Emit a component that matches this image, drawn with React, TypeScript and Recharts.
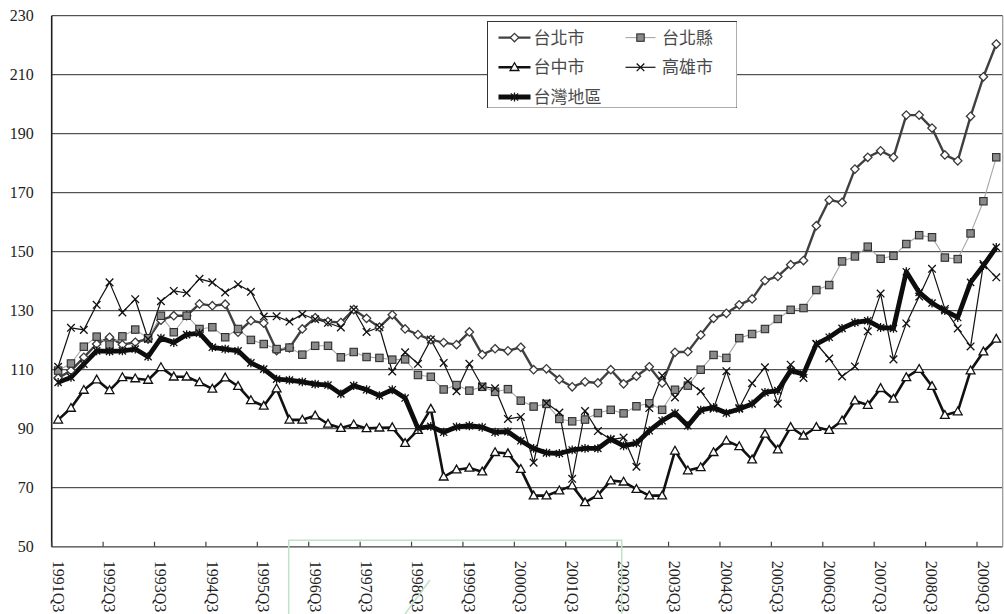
import React from 'react';
import { LineChart, Line, XAxis, YAxis, CartesianGrid, Legend } from 'recharts';

// Quarterly housing price index, 1991Q3 – 2009Q4
const quarters = [
  '1991Q3', '1991Q4',
  '1992Q1', '1992Q2', '1992Q3', '1992Q4',
  '1993Q1', '1993Q2', '1993Q3', '1993Q4',
  '1994Q1', '1994Q2', '1994Q3', '1994Q4',
  '1995Q1', '1995Q2', '1995Q3', '1995Q4',
  '1996Q1', '1996Q2', '1996Q3', '1996Q4',
  '1997Q1', '1997Q2', '1997Q3', '1997Q4',
  '1998Q1', '1998Q2', '1998Q3', '1998Q4',
  '1999Q1', '1999Q2', '1999Q3', '1999Q4',
  '2000Q1', '2000Q2', '2000Q3', '2000Q4',
  '2001Q1', '2001Q2', '2001Q3', '2001Q4',
  '2002Q1', '2002Q2', '2002Q3', '2002Q4',
  '2003Q1', '2003Q2', '2003Q3', '2003Q4',
  '2004Q1', '2004Q2', '2004Q3', '2004Q4',
  '2005Q1', '2005Q2', '2005Q3', '2005Q4',
  '2006Q1', '2006Q2', '2006Q3', '2006Q4',
  '2007Q1', '2007Q2', '2007Q3', '2007Q4',
  '2008Q1', '2008Q2', '2008Q3', '2008Q4',
  '2009Q1', '2009Q2', '2009Q3', '2009Q4',
];

const taipeiCity = [
  107.2, 109.7, 114.2, 118.7, 121.0, 118.5, 119.3, 120.4, 126.8, 128.3,
  128.3, 132.3, 131.7, 132.2, 122.7, 126.6, 125.8, 116.5, 117.4, 123.8,
  127.6, 126.3, 126.0, 130.4, 127.4, 124.4, 128.6, 123.8, 121.9, 120.2,
  119.2, 118.5, 122.8, 115.1, 117.1, 116.4, 117.6, 110.0, 110.3, 106.7,
  104.2, 105.9, 105.5, 110.0, 105.2, 107.8, 111.0, 105.5, 115.9, 116.1,
  121.8, 127.4, 129.1, 132.0, 134.0, 140.2, 141.6, 145.6, 147.0, 158.8,
  167.5, 166.7, 178.0, 182.0, 184.2, 182.0, 196.3, 196.3, 191.9, 182.8,
  180.8, 195.9, 209.3, 220.4,
];

const taipeiCounty = [
  109.7, 112.1, 117.8, 121.2, 118.5, 121.3, 123.6, 120.7, 128.3, 122.7,
  128.3, 123.8, 124.4, 121.0, 123.8, 120.1, 118.7, 117.0, 117.5, 115.1,
  118.1, 118.1, 114.2, 116.0, 114.3, 114.0, 113.4, 113.5, 108.2, 107.6,
  103.3, 104.8, 102.9, 104.2, 102.5, 103.4, 99.5, 97.5, 98.4, 93.3,
  92.5, 93.1, 95.3, 96.4, 95.2, 97.6, 98.6, 96.4, 103.2, 104.6,
  110.0, 115.0, 114.0, 120.7, 122.1, 123.8, 127.2, 130.3, 130.9, 137.0,
  138.7, 146.7, 148.4, 151.7, 147.6, 148.6, 152.6, 155.6, 154.9, 148.0,
  147.5, 156.2, 167.1, 182.0,
];

const taichung = [
  93.0, 97.0, 103.1, 106.6, 103.0, 107.4, 107.0, 106.5, 110.8, 107.6,
  107.6, 105.7, 103.5, 107.3, 104.4, 99.6, 97.7, 103.6, 93.0, 93.0,
  94.4, 91.6, 90.2, 91.4, 90.1, 90.3, 90.4, 85.1, 89.5, 96.7,
  73.7, 76.1, 76.7, 75.4, 82.0, 81.6, 76.3, 67.3, 67.3, 69.0,
  70.7, 65.0, 67.5, 72.4, 72.0, 69.5, 67.3, 67.3, 82.5, 75.8,
  76.9, 82.0, 85.9, 84.0, 79.5, 88.2, 82.9, 90.5, 87.6, 90.5,
  89.5, 92.7, 99.5, 98.0, 103.7, 100.1, 107.4, 110.2, 104.4, 94.6,
  95.8, 109.7, 116.1, 120.4,
];

const kaohsiung = [
  111.0, 124.2, 123.5, 132.0, 139.6, 129.4, 133.9, 120.4, 133.2, 136.7,
  136.0, 140.8, 139.6, 136.2, 138.9, 136.4, 128.0, 128.1, 126.3, 128.8,
  127.1, 125.9, 124.3, 130.4, 122.8, 124.4, 109.4, 115.9, 112.0, 120.2,
  112.3, 102.7, 112.0, 104.3, 103.7, 93.3, 94.0, 78.5, 98.7, 95.5,
  73.0, 96.0, 89.2, 86.3, 87.0, 77.1, 97.0, 108.0, 100.6, 106.1,
  102.7, 96.8, 109.5, 97.0, 105.4, 110.8, 98.5, 111.7, 107.2, 118.8,
  113.8, 107.7, 111.1, 123.0, 135.8, 113.5, 125.7, 134.8, 144.2, 130.6,
  124.0, 117.9, 145.8, 141.3,
];

const taiwan = [
  105.7, 107.4, 111.9, 116.4, 116.2, 116.4, 117.0, 114.4, 120.7, 119.2,
  121.9, 122.4, 117.6, 117.0, 116.4, 112.3, 110.2, 106.8, 106.5, 105.9,
  105.1, 104.8, 101.8, 104.6, 103.2, 101.2, 103.2, 100.4, 90.1, 90.8,
  88.8, 90.6, 91.0, 90.5, 88.8, 89.0, 85.9, 83.3, 81.8, 81.6,
  82.8, 83.3, 83.3, 86.5, 84.2, 85.1, 89.3, 92.7, 95.3, 91.0,
  96.3, 97.2, 95.3, 96.7, 98.4, 102.3, 102.9, 109.7, 108.5, 118.7,
  121.0, 124.0, 126.0, 126.6, 124.3, 124.0, 143.2, 136.2, 132.6, 130.0,
  127.7, 139.6, 145.3, 151.5,
];

const yTicks = [50, 70, 90, 110, 130, 150, 170, 190, 210, 230];

const seriesLabels = {
  taipeiCity: '台北市',
  taipeiCounty: '台北縣',
  taichung: '台中市',
  kaohsiung: '高雄市',
  taiwan: '台灣地區',
};

const data = quarters.map((q, i) => ({
  q,
  taipeiCity: taipeiCity[i],
  taipeiCounty: taipeiCounty[i],
  taichung: taichung[i],
  kaohsiung: kaohsiung[i],
  taiwan: taiwan[i],
}));

// ---- layout ----
const W = 1004;
const H = 614;
const MARGIN = { top: 15.7, right: 0, left: 0, bottom: 0 };
const Y_AXIS_W = 51.7;
const RIGHT_AXIS_W = 1.3;
const X_AXIS_H = 67.3;
const PLOT_W = W - Y_AXIS_W - RIGHT_AXIS_W;
const HALF_STEP = PLOT_W / quarters.length / 2;

const SERIF = '"Liberation Serif", "Times New Roman", serif';
const CJK = '"Noto Sans CJK TC", "Noto Sans CJK SC", sans-serif';

// ---- markers ----
type Shape = 'diamond' | 'square' | 'triangle' | 'cross' | 'star';

const marker = (shape: Shape, cx: number, cy: number, key?: string) => {
  switch (shape) {
    case 'diamond': {
      const r = 4.2;
      return (
        <path key={key} d={`M${cx},${cy - r}L${cx + r},${cy}L${cx},${cy + r}L${cx - r},${cy}Z`}
          fill="#ffffff" stroke="#3a3a3a" strokeWidth={1.3} />
      );
    }
    case 'square': {
      const r = 3.7;
      return (
        <rect key={key} x={cx - r} y={cy - r} width={2 * r} height={2 * r}
          fill="#8a8a8a" stroke="#2e2e2e" strokeWidth={1.1} />
      );
    }
    case 'triangle': {
      return (
        <path key={key} d={`M${cx},${cy - 4.6}L${cx + 4.4},${cy + 3.2}L${cx - 4.4},${cy + 3.2}Z`}
          fill="#ffffff" stroke="#111111" strokeWidth={1.3} />
      );
    }
    case 'cross': {
      const r = 3.8;
      return (
        <path key={key} d={`M${cx - r},${cy - r}L${cx + r},${cy + r}M${cx - r},${cy + r}L${cx + r},${cy - r}`}
          stroke="#111111" strokeWidth={1.3} fill="none" />
      );
    }
    default: {
      const r = 3.6;
      return (
        <path key={key}
          d={`M${cx - r},${cy - r}L${cx + r},${cy + r}M${cx - r},${cy + r}L${cx + r},${cy - r}M${cx},${cy - r - 0.8}L${cx},${cy + r + 0.8}`}
          stroke="#111111" strokeWidth={1.3} fill="none" />
      );
    }
  }
};

const dotFor = (shape: Shape) => (p: any) => {
  if (p == null || p.cx == null || p.cy == null) return <g key={`e-${p?.index}`} />;
  return marker(shape, p.cx, p.cy, `${shape}-${p.index}`);
};

const seriesStyle: Record<string, { stroke: string; width: number; shape: Shape }> = {
  taipeiCity: { stroke: '#404040', width: 2.4, shape: 'diamond' },
  taipeiCounty: { stroke: '#a6a6a6', width: 1.1, shape: 'square' },
  taichung: { stroke: '#111111', width: 2.6, shape: 'triangle' },
  kaohsiung: { stroke: '#111111', width: 1.2, shape: 'cross' },
  taiwan: { stroke: '#0d0d0d', width: 4.8, shape: 'star' },
};

// ---- axis ticks ----
const XTick = (props: any) => {
  const { x, y, payload } = props;
  const ty = y + 14;
  return (
    <g>
      <line x1={x - HALF_STEP} y1={y} x2={x - HALF_STEP} y2={y - 5} stroke="#444" strokeWidth={1.2} />
      <text x={x} y={ty} dy="0.35em" transform={`rotate(90 ${x} ${ty})`}
        fontSize={16} fontFamily={SERIF} fill="#222">
        {payload.value}
      </text>
    </g>
  );
};

// ---- legend ----
const legendSlots: Record<string, { col: number; row: number }> = {
  taipeiCity: { col: 0, row: 0 },
  taipeiCounty: { col: 1, row: 0 },
  taichung: { col: 0, row: 1 },
  kaohsiung: { col: 1, row: 1 },
  taiwan: { col: 0, row: 2 },
};
const LEGEND_BOX = { left: 486.7, top: 20.7, width: 250.6, height: 87.6 };

const LegendBox = (props: any) => {
  const items: any[] = (props.payload && props.payload.length)
    ? props.payload
    : Object.keys(seriesLabels).map((k) => ({ dataKey: k, value: (seriesLabels as any)[k] }));
  return (
    <svg width={LEGEND_BOX.width} height={LEGEND_BOX.height} style={{ display: 'block' }}>
      <rect x={0.5} y={0.5} width={LEGEND_BOX.width - 1} height={LEGEND_BOX.height - 1}
        fill="#ffffff" stroke="#333" strokeWidth={1} />
      {items.map((it) => {
        const key = String(it.dataKey);
        const slot = legendSlots[key];
        const st = seriesStyle[key];
        if (!slot || !st) return null;
        const x0 = slot.col === 0 ? 11.5 : 138.5;
        const x1 = slot.col === 0 ? 43.5 : 168.5;
        const tx = slot.col === 0 ? 46.5 : 175;
        const cy = 16.6 + slot.row * 29.7;
        return (
          <g key={key}>
            <line x1={x0} y1={cy} x2={x1} y2={cy} stroke={st.stroke} strokeWidth={st.width} />
            {marker(st.shape, (x0 + x1) / 2, cy)}
            <text x={tx} y={cy} dy="0.36em" fontSize={17} fontFamily={CJK} fill="#4a4a4a">
              {it.value}
            </text>
          </g>
        );
      })}
    </svg>
  );
};

const seriesOrder = ['taipeiCity', 'taipeiCounty', 'taichung', 'kaohsiung', 'taiwan'];

export default function App() {
  return (
    <div style={{ position: 'absolute', left: 0, top: 0, width: W, height: H, background: '#fff' }}>
      <LineChart width={W} height={H} data={data} margin={MARGIN}>
        <CartesianGrid vertical={false} stroke="#2b2b2b" strokeWidth={1} />
        <XAxis
          dataKey="q"
          interval={3}
          height={X_AXIS_H}
          padding={{ left: HALF_STEP, right: HALF_STEP }}
          tickLine={false}
          tickSize={0}
          tickMargin={0}
          axisLine={{ stroke: '#6e6e6e', strokeWidth: 1.5 }}
          tick={<XTick />}
        />
        <YAxis
          domain={[50, 230]}
          ticks={yTicks}
          width={Y_AXIS_W}
          tickLine={false}
          tickSize={0}
          tickMargin={18}
          axisLine={{ stroke: '#1f1f1f', strokeWidth: 1.6 }}
          tick={{ fontSize: 16, fontFamily: SERIF, fill: '#222' }}
          allowDataOverflow
        />
        <YAxis
          yAxisId="frame"
          orientation="right"
          domain={[50, 230]}
          width={RIGHT_AXIS_W}
          tick={false}
          tickLine={false}
          axisLine={{ stroke: '#9a9a9a', strokeWidth: 1.3 }}
        />
        <Legend
          layout="vertical"
          align="center"
          verticalAlign="middle"
          wrapperStyle={{ left: LEGEND_BOX.left, top: LEGEND_BOX.top, width: LEGEND_BOX.width, height: LEGEND_BOX.height }}
          content={<LegendBox />}
        />
        {seriesOrder.map((k) => {
          const st = seriesStyle[k];
          return (
            <Line
              key={k}
              type="linear"
              dataKey={k}
              name={(seriesLabels as any)[k]}
              stroke={st.stroke}
              strokeWidth={st.width}
              strokeLinejoin="round"
              dot={dotFor(st.shape)}
              activeDot={false}
              isAnimationActive={false}
            />
          );
        })}
      </LineChart>
      <svg width={W} height={H} style={{ position: 'absolute', left: 0, top: 0, pointerEvents: 'none' }}>
        <path d="M288.7,614 V540.3 H621.7 V614" fill="none" stroke="#bfe3c6" strokeWidth={1.5} />
        <path d="M430,580 L405,614" fill="none" stroke="#bfe3c6" strokeWidth={1.5} />
      </svg>
    </div>
  );
}
